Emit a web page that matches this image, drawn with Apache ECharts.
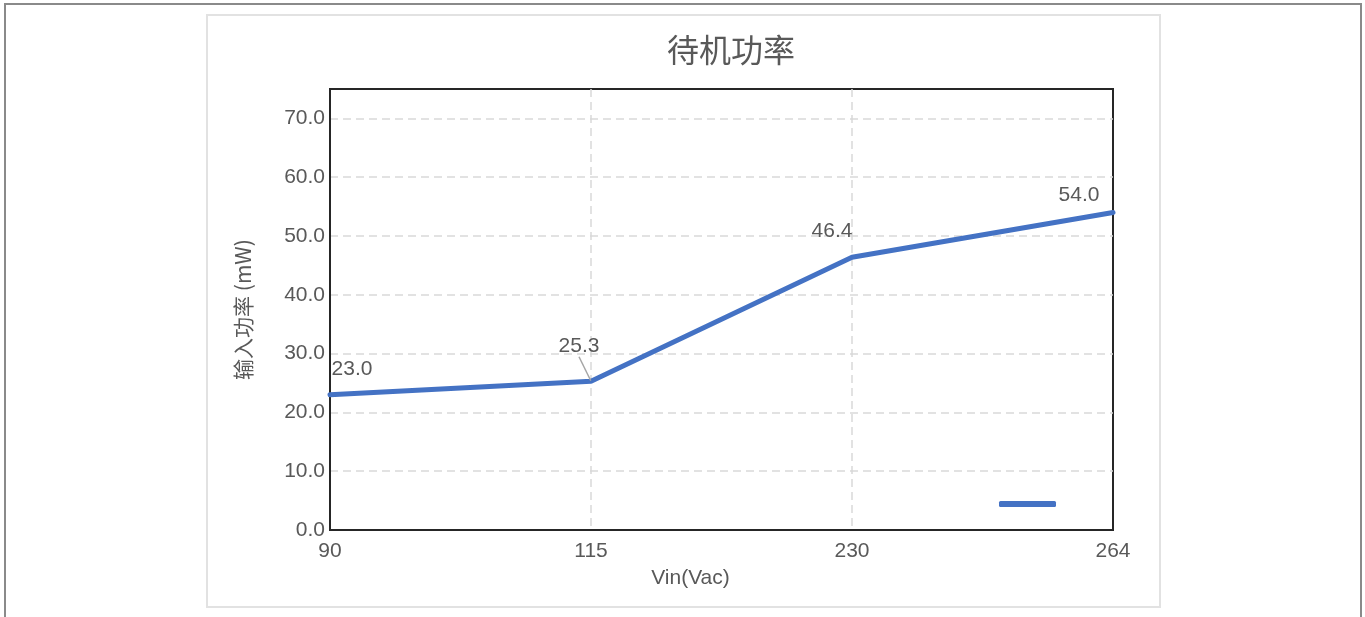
<!DOCTYPE html>
<html>
<head>
<meta charset="utf-8">
<script src="https://cdn.jsdelivr.net/npm/echarts@6/dist/echarts.min.js"></script>
<style>
  html, body { margin: 0; padding: 0; background: #fff; }
  .outer {
    position: absolute; left: 4px; top: 3px; width: 1354px; height: 640px;
    border-top: 2px solid #8a8a8a; border-left: 2px solid #8a8a8a; border-right: 2px solid #8a8a8a;
  }
  .frame {
    position: absolute; left: 206px; top: 14px; width: 951px; height: 590px;
    border: 2px solid #e2e2e2;
  }
  #chart { position: absolute; left: 207px; top: 15px; width: 953px; height: 592px; }
</style>
</head>
<body>
<div class="outer"></div>
<div class="frame"></div>
<div id="chart"></div>
<script>
const categories = ['90', '115', '230', '264']
const powerValues = [23.0, 25.3, 46.4, 54.0]
// label shift from the default 'top' spot, per point
const labelShift = [[22, -10], [-12, -19], [-20, -10], [-34, -1]]

const textColor = '#595959'
const fontFamily = "'Liberation Sans', Arial, 'Noto Sans CJK SC', sans-serif"

const chart = echarts.init(document.getElementById('chart'))

const option = {
  animation: false,
  textStyle: { fontFamily: fontFamily },
  title: {
    text: '待机功率',
    left: 455,
    top: 14,
    textStyle: {
      fontFamily: "'Noto Sans CJK SC', sans-serif",
      fontSize: 32,
      fontWeight: 'normal',
      color: textColor
    }
  },
  legend: {
    left: 787,
    top: 481,
    icon: 'roundRect',
    itemWidth: 57,
    itemHeight: 6,
    formatter: function() { return '' },
    data: ['待机功率']
  },
  grid: {
    left: 123,
    top: 74,
    right: 47,
    bottom: 77,
    show: true,
    borderColor: '#262626',
    borderWidth: 2,
    containLabel: false
  },
  xAxis: {
    type: 'category',
    boundaryGap: false,
    data: categories,
    name: 'Vin(Vac)',
    nameLocation: 'middle',
    nameGap: 38,
    nameTextStyle: {
      fontSize: 21,
      color: textColor,
      padding: [0, 62, 0, 0]
    },
    axisLine: { show: true, lineStyle: { color: '#262626', width: 2 } },
    axisTick: { show: false },
    axisLabel: { fontSize: 21, color: textColor, margin: 11 },
    splitLine: {
      show: true,
      showMinLine: false,
      showMaxLine: false,
      lineStyle: { color: '#d9d9d9', type: [8, 5], width: 1.5 }
    }
  },
  yAxis: {
    type: 'value',
    min: 0,
    max: 75,
    interval: 10,
    name: '输入功率 (mW)',
    nameLocation: 'middle',
    nameGap: 76,
    nameTextStyle: {
      fontSize: 21,
      color: textColor,
      fontFamily: "'Noto Sans CJK SC', 'Liberation Sans', sans-serif"
    },
    axisLine: { show: true, lineStyle: { color: '#262626', width: 2 } },
    axisTick: { show: false },
    axisLabel: {
      fontSize: 21,
      color: textColor,
      margin: 5,
      showMaxLabel: false,
      formatter: function(v) { return v.toFixed(1) }
    },
    splitLine: {
      showMinLine: false,
      showMaxLine: false,
      lineStyle: { color: '#d9d9d9', type: [8, 5], width: 1.5 }
    }
  },
  series: [{
    name: '待机功率',
    type: 'line',
    data: powerValues.map(function(v, i) {
      return {
        value: v,
        labelLine: { show: i === 1 }
      }
    }),
    showSymbol: true,
    symbol: 'circle',
    symbolSize: 1,
    color: '#4472C4',
    lineStyle: { width: 5, color: '#4472C4', cap: 'round' },
    label: {
      show: true,
      position: 'top',
      fontSize: 21,
      color: textColor,
      formatter: function(p) { return p.value.toFixed(1) }
    },
    labelLine: {
      show: false,
      lineStyle: { color: '#a6a6a6', width: 1.5 }
    },
    labelLayout: function(params) {
      const s = labelShift[params.dataIndex]
      return { dx: s[0], dy: s[1] }
    }
  }]
}

chart.setOption(option)
</script>
</body>
</html>
